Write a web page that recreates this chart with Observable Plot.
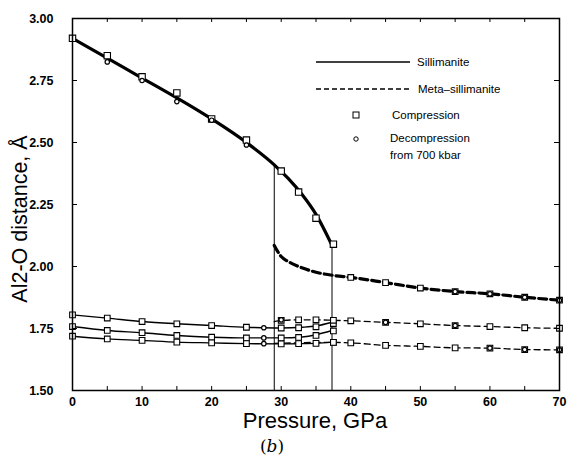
<!DOCTYPE html>
<html><head><meta charset="utf-8">
<script src="https://cdn.jsdelivr.net/npm/d3@7"></script>
<script src="https://cdn.jsdelivr.net/npm/@observablehq/plot@0.6"></script>
<style>
body{margin:0;background:#fff;}
#chart{width:568px;height:464px;}
svg{font-family:"Liberation Sans",Arial,sans-serif;}
</style></head>
<body><div id="chart"></div>
<script>
// ---- data (pressure in GPa, distance in Å) ----
const xTickLabels = [0,10,20,30,40,50,60,70];
const xMinorTicks = [0,5,10,15,20,25,30,35,40,45,50,55,60,65,70];
const yTickLabels = [1.50,1.75,2.00,2.25,2.50,2.75,3.00];

// Sillimanite (solid)
const silP      = [0,5,10,15,20,25,29,31,33,35,37.3];
const silUpper  = [2.92,2.84,2.76,2.68,2.595,2.50,2.41,2.355,2.29,2.21,2.085];
const silLowP   = [0,5,10,15,20,25,30,33,35,37.3];
const silL1     = [1.805,1.792,1.778,1.769,1.762,1.755,1.752,1.755,1.760,1.775];
const silL2     = [1.758,1.742,1.733,1.722,1.715,1.712,1.712,1.716,1.725,1.742];
const silL3     = [1.719,1.708,1.702,1.695,1.692,1.689,1.688,1.689,1.690,1.695];

// Meta-sillimanite (dashed)
const metaP     = [29,29.5,30,31,32.5,35,37.5,40,45,50,55,60,65,70];
const metaUpper = [2.085,2.06,2.04,2.02,2.0,1.977,1.964,1.956,1.935,1.913,1.899,1.89,1.876,1.864];
const metaLowP  = [29,30,32.5,35,37.5,40,45,50,55,60,65,70];
const metaL1    = [1.778,1.782,1.785,1.785,1.783,1.781,1.775,1.769,1.762,1.758,1.753,1.751];
const metaL2    = [1.690,1.691,1.692,1.694,1.694,1.692,1.682,1.678,1.672,1.671,1.665,1.664];

// Compression (squares)
const compUpperP = [0,5,10,15,20,25,30,32.5,35,37.5];
const compUpper  = [2.92,2.85,2.765,2.70,2.595,2.51,2.385,2.30,2.195,2.09];
const compLowP   = [0,5,10,15,20,25,30,32.5,35,37.5];
const compL1     = [1.805,1.792,1.778,1.769,1.762,1.755,1.752,1.753,1.757,1.770];
const compL2     = [1.758,1.742,1.733,1.722,1.715,1.712,1.712,1.714,1.722,1.740];
const compL3     = [1.719,1.708,1.702,1.695,1.692,1.689,1.688,1.689,1.690,1.694];
const compMetaP  = [40,45,50,55,60,65,70];
const compMetaU  = [1.956,1.935,1.913,1.899,1.89,1.876,1.864];
const compMetaL1P= [30,32.5,35,37.5,40,45,50,55,60,65,70];
const compMetaL1 = [1.783,1.785,1.785,1.783,1.781,1.775,1.769,1.762,1.758,1.753,1.751];
const compMetaL2P= [37.5,40,45,50,55,60,65,70];
const compMetaL2 = [1.694,1.692,1.682,1.678,1.672,1.671,1.665,1.664];

// Decompression from 700 kbar (circles)
const decUpperP = [5,10,15,20,25];
const decUpper  = [2.825,2.75,2.665,2.59,2.49];
const decLowP   = [27.5,27.5,27.5,30,45,55,60,65,70,55,60,65,70];
const decLow    = [1.753,1.712,1.689,1.785,1.775,1.899,1.89,1.876,1.864,1.762,1.671,1.665,1.664];

// Phase transition pressures
const transP = [29,37.3];
const transTop = [2.41,2.085];

const zip = (xs, ys) => xs.map((x,i)=>({x, y: ys[i]}));

const W = 568, H = 464, mL = 72, mR = 9, mT = 18, mB = 74;
const innerW = W - mL - mR, innerH = H - mT - mB;

const lineOpts = {x:"x", y:"y", stroke:"black", curve:"monotone-x"};

const plot = Plot.plot({
  width: W, height: H,
  marginLeft: mL, marginRight: mR, marginTop: mT, marginBottom: mB,
  style: {fontFamily: '"Liberation Sans", Arial, sans-serif', background: "white"},
  x: {domain: [0,70], label: null},
  y: {domain: [1.5,3.0], label: null},
  marks: [
    Plot.ruleX(zip(transP, transTop), {x:"x", y1: 1.5, y2: "y", stroke:"black", strokeWidth: 1}),
    Plot.line(zip(silP, silUpper), {...lineOpts, strokeWidth: 3.2}),
    Plot.line(zip(silLowP, silL1), {...lineOpts, strokeWidth: 1.4}),
    Plot.line(zip(silLowP, silL2), {...lineOpts, strokeWidth: 1.4}),
    Plot.line(zip(silLowP, silL3), {...lineOpts, strokeWidth: 1.4}),
    Plot.line(zip(metaP, metaUpper), {...lineOpts, strokeWidth: 3.2, strokeDasharray: "8,4"}),
    Plot.line(zip(metaLowP, metaL1), {...lineOpts, strokeWidth: 1.3, strokeDasharray: "6,4"}),
    Plot.line(zip(metaLowP, metaL2), {...lineOpts, strokeWidth: 1.3, strokeDasharray: "6,4"}),
    Plot.dot(zip(compUpperP, compUpper), {x:"x", y:"y", symbol:"square", r: 3.6, fill:"white", stroke:"black", strokeWidth:1.1}),
    Plot.dot([...zip(compLowP, compL1), ...zip(compLowP, compL2), ...zip(compLowP, compL3),
              ...zip(compMetaP, compMetaU), ...zip(compMetaL1P, compMetaL1), ...zip(compMetaL2P, compMetaL2)],
      {x:"x", y:"y", symbol:"square", r: 3.2, fill:"white", stroke:"black", strokeWidth:1.1}),
    Plot.dot([...zip(decUpperP, decUpper), ...zip(decLowP, decLow)],
      {x:"x", y:"y", r: 2.2, fill:"white", stroke:"black", strokeWidth:1.2}),
    Plot.tickX(xMinorTicks, {x: d=>d, insetTop: innerH-4, stroke:"black"}),
    Plot.tickX(xMinorTicks, {x: d=>d, insetBottom: innerH-4, stroke:"black"}),
    Plot.tickY(yTickLabels, {y: d=>d, insetRight: innerW-5, stroke:"black"}),
    Plot.tickY(yTickLabels, {y: d=>d, insetLeft: innerW-5, stroke:"black"}),
    Plot.axisX({ticks: xTickLabels, tickSize: 0, tickPadding: 7, fontSize: 12.5, fontWeight: "bold", label: null}),
    Plot.axisY({ticks: yTickLabels, tickSize: 0, tickPadding: 19, fontSize: 12.5, fontWeight: "bold", label: null, tickFormat: d3.format(".2f")}),
    Plot.frame({stroke:"black", strokeWidth: 1.5})
  ]
});

document.getElementById("chart").appendChild(plot);

const svg = d3.select(plot);
svg.append("text").attr("x", 315).attr("y", 428).attr("text-anchor","middle")
  .attr("font-size", 22).text("Pressure, GPa");
svg.append("text").attr("transform","translate(27,219) rotate(-90)").attr("text-anchor","middle")
  .attr("font-size", 21.5).text("Al2-O distance, Å");
svg.append("text").attr("x", 272).attr("y", 452).attr("text-anchor","middle")
  .attr("font-size", 17).attr("font-family","'DejaVu Serif','Liberation Serif',serif")
  .html('(<tspan font-style="italic">b</tspan>)');

const lg = svg.append("g").attr("font-size", 11.5).attr("fill","black").attr("text-anchor","start");
lg.append("line").attr("x1",316).attr("x2",410).attr("y1",62).attr("y2",62).attr("stroke","black").attr("stroke-width",1.5);
lg.append("text").attr("x",417).attr("y",66).text("Sillimanite");
lg.append("line").attr("x1",316).attr("x2",410).attr("y1",89).attr("y2",89).attr("stroke","black").attr("stroke-width",1.5).attr("stroke-dasharray","5,3");
lg.append("text").attr("x",418).attr("y",93).text("Meta\u2013sillimanite");
lg.append("rect").attr("x",353).attr("y",112).attr("width",6).attr("height",6).attr("fill","white").attr("stroke","black");
lg.append("text").attr("x",392).attr("y",119).text("Compression");
lg.append("circle").attr("cx",356).attr("cy",139).attr("r",2.2).attr("fill","white").attr("stroke","black");
lg.append("text").attr("x",390).attr("y",142).text("Decompression");
lg.append("text").attr("x",390).attr("y",159).text("from 700 kbar");
</script>
</body></html>
